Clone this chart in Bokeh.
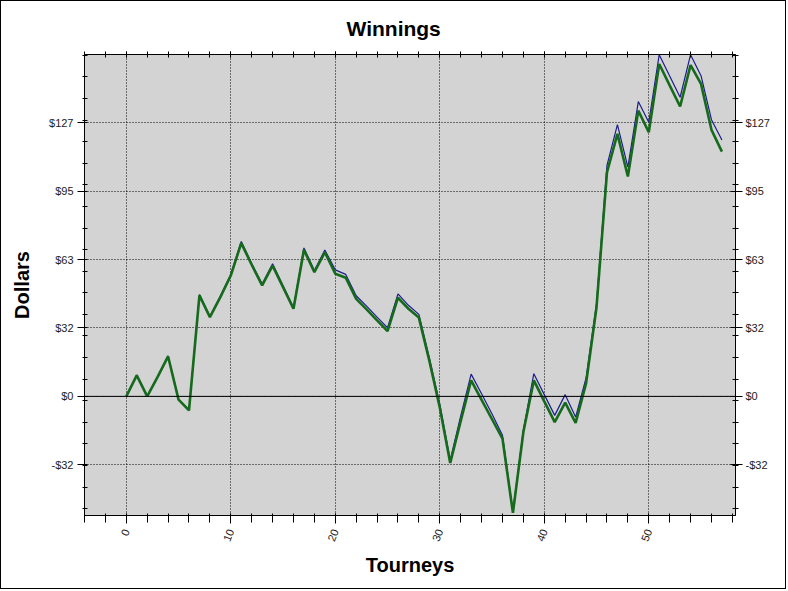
from bokeh.plotting import figure
from bokeh.embed import file_html
from bokeh.resources import INLINE
from bokeh.models import (LinearAxis, FixedTicker, CustomJSTickFormatter, Span, Range1d)

# ---- data ----
winnings_net = [0, 9.7, 0, 9, 18.5, -1.5, -6.5, 46.8, 36.7, 46, 56, 71, 61, 51.4, 60.6, 50.6,
                40.6, 67.9, 57.5, 66.8, 56.8, 55, 45.2, 40.3, 35.2, 30.2, 45.7, 40.6, 36.5,
                16.5, -5.2, -30.9, -11.5, 7.4, -1.6, -10.6, -19.6, -54, -16.5, 7.4, -2.3,
                -11.9, -2.9, -12.3, 6, 41.3, 103.8, 121.6, 101.9, 132.4, 122.4, 154, 144.1,
                134.3, 153.5, 144.8, 123.5, 113.4]
winnings_gross = [0, 9.9, 0.2, 9.2, 18.8, -1.3, -6.3, 47.2, 37, 46.4, 56.5, 71.8, 61.6, 52,
                  61.4, 51.2, 41.2, 68.8, 58.3, 67.8, 58.6, 56.5, 46.6, 41.8, 36.7, 31.8,
                  47.5, 42.2, 38, 18, -3.6, -29.5, -9.2, 10.3, 1.2, -8.2, -18, -53.5, -15.5,
                  10.5, 0.8, -8.8, 0.8, -9.6, 8.5, 43, 107, 125.9, 106.2, 136.6, 127, 158.3,
                  148.4, 138.6, 158.3, 148.6, 128.2, 118.8]
tourneys = list(range(len(winnings_net)))

x_major = [0, 10, 20, 30, 40, 50]
x_minor = [-4, -2, 0, 2, 4, 6, 8, 10, 12, 14, 16, 18, 20, 22, 24, 26, 28, 30, 32, 34, 36,
           38, 40, 42, 44, 46, 48, 50, 52, 54, 56, 58]
y_major = [-31.7, 0, 31.7, 63.4, 95.1, 126.8]
y_minor = [-52, -42, -32, -22, -12, -2, 8, 18, 28, 38, 48, 58, 68, 78, 88, 98, 108, 118,
           128, 138, 148, 158]

FONT = "Liberation Sans"

p = figure(width=786, height=589, output_backend="svg", toolbar_location=None,
           x_range=Range1d(-4, 58.3), y_range=Range1d(-55.2, 158.4),
           x_axis_location=None, y_axis_location=None,
           min_border_left=83, min_border_right=52, min_border_top=53, min_border_bottom=75)

p.title.text = "Winnings"
p.title.align = "left"
p.title.offset = 262
p.title.text_font = FONT
p.title.text_font_size = "21px"
p.title.text_font_style = "bold"
p.title.text_color = "black"
p.title.standoff = 23

p.background_fill_color = "#d3d3d3"
p.border_fill_color = "white"
p.outline_line_color = "black"
p.outline_line_width = 1

fmt = CustomJSTickFormatter(code="const v = Math.round(tick); return (v < 0 ? '-$' : '$') + Math.abs(v);")
blank = CustomJSTickFormatter(code="return '';")

def style(ax):
    ax.major_label_text_font = FONT
    ax.major_label_text_font_size = "11px"
    ax.major_label_text_color = "#222222"
    ax.axis_line_color = "black"
    ax.major_tick_line_color = "black"
    ax.minor_tick_line_color = "black"
    ax.axis_label_text_font = FONT
    ax.axis_label_text_font_size = "20px"
    ax.axis_label_text_font_style = "bold"
    ax.axis_label_text_color = "black"

yt = FixedTicker(ticks=y_major, minor_ticks=y_minor)
xt = FixedTicker(ticks=x_major, minor_ticks=x_minor)

left = LinearAxis(ticker=yt, formatter=fmt, axis_label="Dollars")
style(left)
left.major_tick_out = 7; left.major_tick_in = 3
left.minor_tick_out = 2; left.minor_tick_in = 3
left.major_label_standoff = 4
left.axis_label_standoff = 13
p.add_layout(left, "left")

right = LinearAxis(ticker=yt, formatter=fmt)
style(right)
right.major_tick_out = 7; right.major_tick_in = 5
right.minor_tick_out = 3; right.minor_tick_in = 3
right.major_label_standoff = 3
p.add_layout(right, "right")

bottom = LinearAxis(ticker=xt, axis_label="Tourneys")
style(bottom)
bottom.major_tick_out = 8; bottom.major_tick_in = 2
bottom.minor_tick_out = 7; bottom.minor_tick_in = 2
bottom.major_label_orientation = 1.2
bottom.major_label_standoff = 6
bottom.axis_label_standoff = 7
p.add_layout(bottom, "below")

top = LinearAxis(ticker=xt, formatter=blank)
style(top)
top.axis_line_color = None
top.major_tick_out = 3; top.major_tick_in = 3
top.minor_tick_out = 3; top.minor_tick_in = 3
top.major_label_standoff = 0
top.major_label_text_font_size = "1px"
p.add_layout(top, "above")

p.xgrid.ticker = xt
p.ygrid.ticker = yt
for g in (p.xgrid, p.ygrid):
    g.grid_line_color = "black"
    g.grid_line_dash = "1 2"
    g.grid_line_width = 1

p.add_layout(Span(location=0, dimension="width", line_color="black", line_width=1))

p.line(tourneys, winnings_gross, line_color="#1c1c8e", line_width=1.2)
p.line(tourneys, winnings_net, line_color="#166a1c", line_width=2.6)

p.styles = {"border": "1px solid black"}

open("out.html", "w").write(file_html(p, INLINE))
